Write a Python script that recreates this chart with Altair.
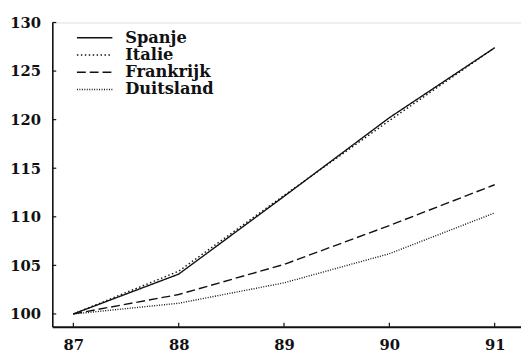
import altair as alt
import pandas as pd

years = [87, 88, 89, 90, 91]
spanje = [100, 104.1, 112.1, 120.2, 127.4]
italie = [100, 104.4, 112.2, 119.9, 127.4]
frankrijk = [100, 102.0, 105.1, 109.1, 113.3]
duitsland = [100, 101.1, 103.2, 106.2, 110.4]
landen = ["Spanje", "Italie", "Frankrijk", "Duitsland"]
y_ticks = [100, 105, 110, 115, 120, 125, 130]
x_ticks = [87, 88, 89, 90, 91]

rows = []
for land, vals in zip(landen, [spanje, italie, frankrijk, duitsland]):
    for yr, v in zip(years, vals):
        rows.append({"jaar": yr, "index": v, "land": land})
df = pd.DataFrame(rows)

W, H = 476, 309
FONT = "DejaVu Serif"

xscale = alt.Scale(domain=[86.8, 91.25], nice=False, zero=False)
yscale = alt.Scale(domain=[98.68, 130], nice=False, zero=False)

lines = alt.Chart(df).mark_line(strokeWidth=1.4, color="#111").encode(
    x=alt.X("jaar:Q", scale=xscale,
            axis=alt.Axis(values=x_ticks, format="d", title=None, tickSize=0,
                          labelPadding=11,
                          domainColor="#111", domainWidth=2, grid=False,
                          labelFont=FONT, labelFontSize=15, labelFontWeight="bold",
                          labelColor="#111")),
    y=alt.Y("index:Q", scale=yscale,
            axis=alt.Axis(values=y_ticks, format="d", title=None, tickSize=0,
                          labelPadding=12,
                          domainColor="#111", domainWidth=1.6, grid=False,
                          labelFont=FONT, labelFontSize=15, labelFontWeight="bold",
                          labelColor="#111")),
    strokeDash=alt.StrokeDash(
        "land:N",
        sort=landen,
        scale=alt.Scale(domain=landen,
                        range=[[1, 0], [1.5, 2.5], [9, 4], [1, 1.5]]),
        legend=alt.Legend(orient="none", legendX=24, legendY=8, title=None,
                          symbolType="stroke", symbolSize=1296,
                          symbolStrokeWidth=1.4, symbolStrokeColor="#111",
                          clipHeight=15, rowPadding=0.5, labelOffset=12, padding=0,
                          labelFont=FONT, labelFontSize=16.5, labelFontWeight="bold",
                          labelColor="#111"),
    ),
)

ydf = pd.DataFrame({"v": y_ticks})
xdf = pd.DataFrame({"v": x_ticks})

ytick_marks = alt.Chart(ydf).mark_rule(color="#111", strokeWidth=1.2).encode(
    y=alt.Y("v:Q", scale=yscale), x=alt.value(0), x2=alt.value(4)
)
xtick_marks = alt.Chart(xdf).mark_rule(color="#111", strokeWidth=1.2).encode(
    x=alt.X("v:Q", scale=xscale), y=alt.value(H), y2=alt.value(H - 4)
)

chart = alt.layer(lines, ytick_marks, xtick_marks).properties(
    width=W, height=H,
    autosize=alt.AutoSizeParams(type="none"),
    padding={"left": 45, "top": 12, "right": 0, "bottom": 30},
).configure_view(stroke=None).configure(background="white")

chart.save("out.html", embed_options={"renderer": "svg", "actions": False})
